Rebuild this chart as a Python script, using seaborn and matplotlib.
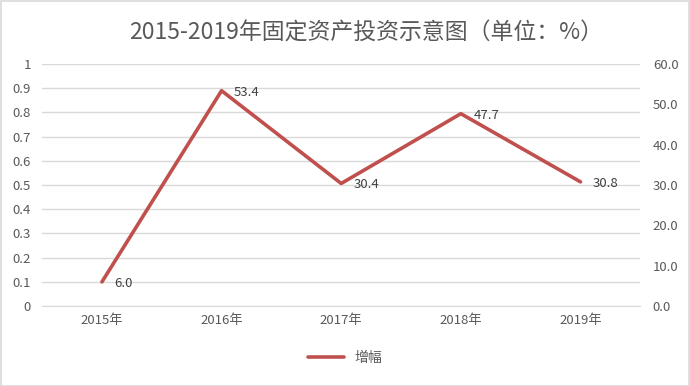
import matplotlib
matplotlib.use("Agg")
import matplotlib.pyplot as plt
import seaborn as sns
import pandas as pd

years = ['2015年', '2016年', '2017年', '2018年', '2019年']
growth = [6.0, 53.4, 30.4, 47.7, 30.8]
left_ticks = [0, 0.1, 0.2, 0.3, 0.4, 0.5, 0.6, 0.7, 0.8, 0.9, 1]
right_ticks = [0, 10, 20, 30, 40, 50, 60]

sns.set_style('white')
plt.rcParams['font.family'] = ['Noto Sans CJK SC', 'DejaVu Sans']

df = pd.DataFrame({'年份': years, '增幅': growth})
df['x'] = range(len(years))

line_color = '#C0504D'
text_color = '#595959'

fig = plt.figure(figsize=(6.9, 3.86), dpi=100)
ax = fig.add_axes([0.061, 0.207, 0.867, 0.627])
ax2 = ax.twinx()

# left axis only carries the grid and the 0-1 labels
ax.set_ylim(0, 1)
ax.set_yticks(left_ticks)
ax.set_yticklabels(['0', '0.1', '0.2', '0.3', '0.4', '0.5', '0.6', '0.7', '0.8', '0.9', '1'])
ax.yaxis.grid(True, color='#D9D9D9', linewidth=1)
ax.set_xlim(-0.5, len(years) - 0.5)
ax.set_xticks(df['x'])
ax.set_xticklabels(years)

sns.lineplot(data=df, x='x', y='增幅', ax=ax2, color=line_color, linewidth=2.6,
             label='增幅', legend=False)
ax2.set_ylim(0, 60)
ax2.set_yticks(right_ticks)
ax2.set_yticklabels([f'{v:.1f}' for v in right_ticks])
ax2.set_xlim(-0.5, len(years) - 0.5)
ax2.set_ylabel('')
ax2.set_xlabel('')

for a in (ax, ax2):
    for s in a.spines.values():
        s.set_visible(False)
    a.tick_params(length=0, labelsize=9.5, colors=text_color, pad=6)
ax.spines['bottom'].set_visible(True)
ax.spines['bottom'].set_color('#D9D9D9')
ax.tick_params(axis='y', pad=8)
ax2.tick_params(axis='y', pad=9)

for xi, v in zip(df['x'], growth):
    ax2.annotate(f'{v:.1f}', (xi, v), xytext=(9, -1), textcoords='offset points',
                 ha='left', va='center', fontsize=9.5, color='#404040', fontweight='medium')

fig.suptitle('2015-2019年固定资产投资示意图（单位：%）', x=0.53, y=0.945, fontsize=16.5,
             color=text_color)

handles, labels = ax2.get_legend_handles_labels()
fig.legend(handles, labels, loc='center', bbox_to_anchor=(0.5, 0.072), frameon=False,
           fontsize=10, handlelength=2.6, labelcolor=text_color)

fig.patches.append(plt.Rectangle((0.001, 0.001), 0.998, 0.997, transform=fig.transFigure,
                                 fill=False, edgecolor='#D9D9D9', linewidth=1.2))

fig.savefig('out.png', dpi=100)
